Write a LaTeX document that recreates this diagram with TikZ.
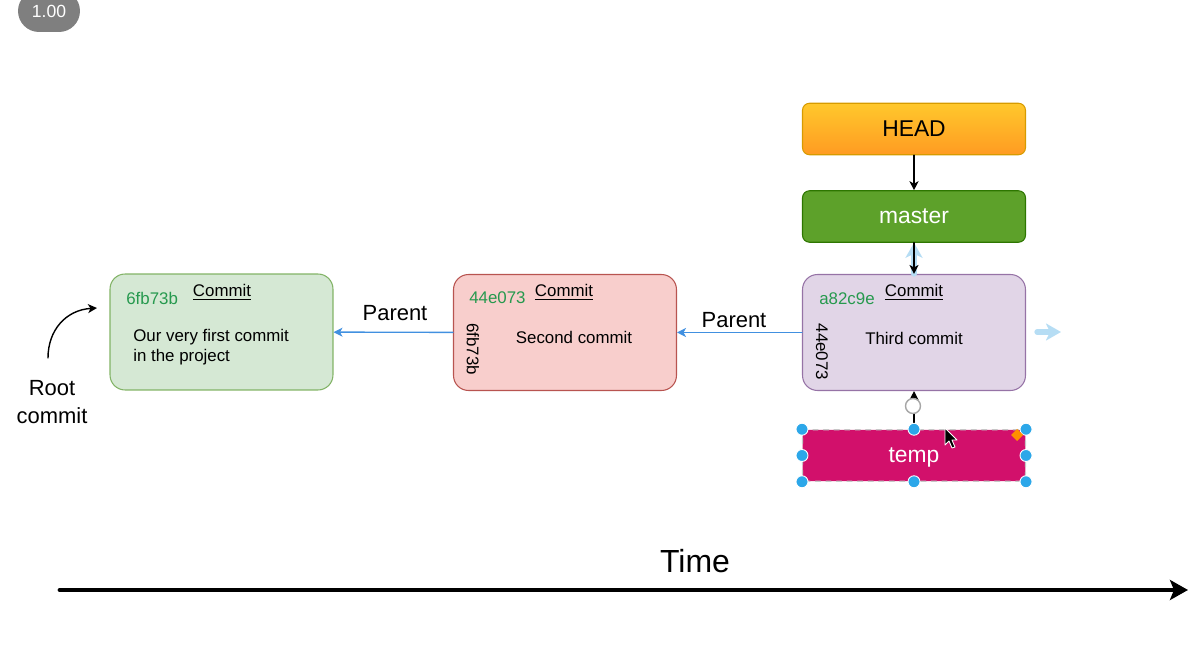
\documentclass[tikz,border=0pt]{standalone}
\usepackage{fontspec}
\setmainfont{Liberation Sans}
\usetikzlibrary{shapes,arrows.meta}
\definecolor{c1fill}{HTML}{D5E8D4}
\definecolor{c1line}{HTML}{82B366}
\definecolor{c2fill}{HTML}{F8CECC}
\definecolor{c2line}{HTML}{B85450}
\definecolor{c3fill}{HTML}{E1D5E7}
\definecolor{c3line}{HTML}{9673A6}
\definecolor{headtop}{HTML}{FFC82C}
\definecolor{headbot}{HTML}{FF9B22}
\definecolor{headline}{HTML}{D79B00}
\definecolor{mastergreen}{HTML}{5DA12A}
\definecolor{masterline}{HTML}{2D7600}
\definecolor{tempred}{HTML}{D2106B}
\definecolor{hashgreen}{HTML}{26994E}
\definecolor{arrowblue}{HTML}{4190E0}
\definecolor{handleblue}{HTML}{2CA7E9}
\definecolor{ghostblue}{HTML}{B6DDF4}
\definecolor{badgegray}{HTML}{7F7F7F}
\newcommand{\smalltxt}{\fontsize{9.6}{11.5}\selectfont}
\newcommand{\midtxt}{\fontsize{12.5}{15.5}\selectfont}
\newcommand{\bigtxt}{\fontsize{13}{15.6}\selectfont}
\newcommand{\timetxt}{\fontsize{18.2}{21.8}\selectfont}
\tikzset{
  commit/.style ={draw, line width=0.6pt, rounded corners=0.3cm, minimum width=4.46cm, minimum height=2.32cm},
  refbox/.style ={draw, line width=0.6pt, rounded corners=0.14cm, minimum width=4.46cm, minimum height=1.03cm, font=\bigtxt},
  hash/.style ={inner sep=0pt, text=hashgreen, font=\smalltxt},
  title/.style ={inner sep=0pt, font=\smalltxt},
  body/.style ={inner sep=0pt, font=\smalltxt},
  parent/.style ={draw=arrowblue, line width=0.8pt, -{Stealth[length=0.18cm, width=0.18cm, inset=0.05cm]}},
  ptr/.style ={draw, line width=0.8pt, -{Stealth[length=0.18cm, width=0.18cm, inset=0.05cm]}},
  ghost/.style ={draw=ghostblue, line width=3pt, -{Stealth[length=0.3cm, width=0.34cm, inset=0.08cm]}},
  handle/.style ={fill=handleblue, draw=white, line width=0.5pt}
}
\begin{document}
\begin{tikzpicture}[line cap=round,line join=round,x=0.02cm,y=-0.02cm]
\useasboundingbox (0,0) rectangle (1188,651);
% zoom badge
\node[fill=badgegray, rounded corners=0.42cm, minimum width=1.24cm, minimum height=0.84cm, text=white, font=\fontsize{10}{12}\selectfont] (badge) at (49,11) {1.00};
% branch pointers
\node[refbox, top color=headtop, bottom color=headbot, draw=headline] (head) at (914,129) {HEAD};
\node[refbox, fill=mastergreen, draw=masterline, text=white] (master) at (914,216.5) {master};
\node[refbox, fill=tempred, draw=gray!45, dashed, text=white, text depth=0pt] (temp) at (914,455.5) {temp};
% commits
\node[commit, fill=c1fill, draw=c1line] (c1) at (221.5,332) {};
\node[commit, fill=c2fill, draw=c2line] (c2) at (565,332.5) {};
\node[commit, fill=c3fill, draw=c3line] (c3) at (914,332.5) {};
\node[hash, anchor=west] (c1hash) at (126,298) {6fb73b};
\node[title, anchor=base] (c1title) at (222,297) {\underline{Commit}};
\node[body, anchor=west, align=left] (c1body) at (133,347) {Our very first commit\\in the project};
\node[hash, anchor=west] (c2hash) at (469,298) {44e073};
\node[title, anchor=base] (c2title) at (564,297) {\underline{Commit}};
\node[body, rotate=-90] (c2par) at (473,349) {6fb73b};
\node[body] (c2body) at (574,337) {Second commit};
\node[hash, anchor=west] (c3hash) at (819,299) {a82c9e};
\node[title, anchor=base] (c3title) at (914,297) {\underline{Commit}};
\node[body, rotate=-90] (c3par) at (822,352) {44e073};
\node[body] (c3body) at (914,338) {Third commit};
% parent links
\node[font=\midtxt] (p1) at (395,313) {Parent};
\node[font=\midtxt] (p2) at (734,320) {Parent};
\draw[parent] (c2) -- (c1);
\draw[parent] (c3) -- (c2);
\draw[ghost] (c3.north) -- (master.south);
\draw[ptr] (head) -- (master);
\draw[ptr] (master) -- (c3);
\draw[ptr] (temp) -- (c3);
\draw[ghost] (1037,332) -- (1061,332);
% root
\node[font=\midtxt, align=center] (root) at (52,402) {Root\\commit};
\coordinate (rootfrom) at (48,358);
\coordinate (rootto) at (97,308);
\draw[ptr] (rootfrom) .. controls (48,330) and (66,310) .. (rootto);
% selection of temp
\draw[gray!70, fill=white, line width=0.8pt] (913,406) circle (0.15cm);
\foreach \a in {north west,north,north east,west,east,south west,south,south east}
  \filldraw[handle] (temp.\a) circle (0.12cm);
\fill[orange!90!red!80!yellow] (1017,429) -- (1023,435) -- (1017,441) -- (1011,435) -- cycle;
\filldraw[fill=black, draw=white, line width=0.5pt] (945,428) -- (945,445) -- (949,441) -- (952,448) -- (955,447) -- (952,440) -- (957,440) -- cycle;
% time axis
\node[font=\timetxt] (time) at (695,561) {Time};
\coordinate (tstart) at (60,590);
\coordinate (tend) at (1188,590);
\draw[line width=2.8pt, -{Stealth[length=0.36cm, width=0.4cm, inset=0.08cm]}] (tstart) -- (tend);
\end{tikzpicture}
\end{document}
